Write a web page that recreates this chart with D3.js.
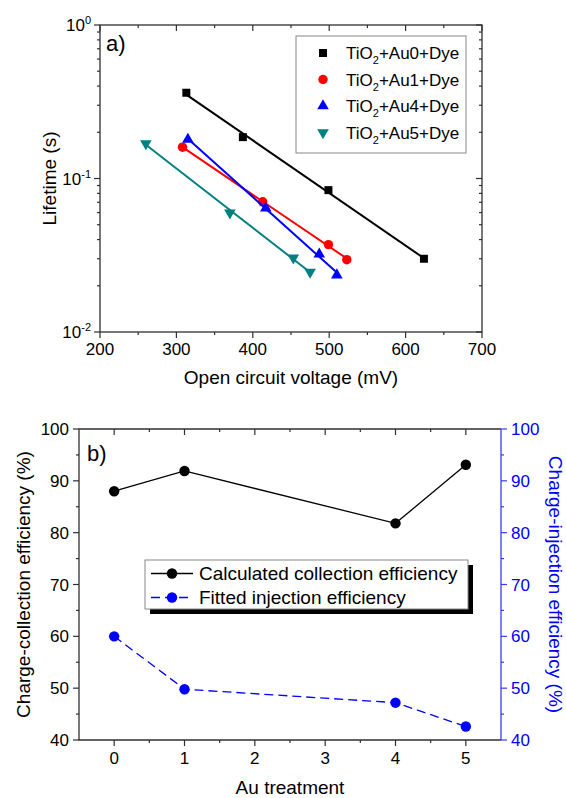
<!DOCTYPE html>
<html>
<head>
<meta charset="utf-8">
<script src="https://cdn.jsdelivr.net/npm/d3@7"></script>
<style>
  body { margin: 0; background: #fff; }
  svg text { font-family: "Liberation Sans", Arial, sans-serif; }
</style>
</head>
<body>
<svg width="566" height="798"></svg>
<script>
// panel a) data: open circuit voltage (mV) vs lifetime (s)
const seriesNames = ['Au0', 'Au1', 'Au4', 'Au5'];
const vocAu0 = [313, 387, 499, 624];
const tauAu0 = [0.362, 0.186, 0.084, 0.030];
const vocAu1 = [308, 413, 499, 523];
const tauAu1 = [0.160, 0.0705, 0.0371, 0.0296];
const vocAu4 = [315, 417, 487, 510];
const tauAu4 = [0.180, 0.064, 0.0321, 0.0235];
const vocAu5 = [260, 370, 453, 475];
const tauAu5 = [0.169, 0.0597, 0.0304, 0.0246];
const seriesColors = ['#000000', '#ff0000', '#0000ff', '#008080'];
const seriesSymbols = [d3.symbolSquare, d3.symbolCircle, d3.symbolTriangle, 'down'];

// panel b) data
const auTreatment = [0, 1, 4, 5];
const collectionEff = [88.0, 91.9, 81.8, 93.1];
const injectionEff = [60.0, 49.8, 47.2, 42.6];

const xTicksA = [200, 300, 400, 500, 600, 700];
const xTicksB = [0, 1, 2, 3, 4, 5];
const yTicksB = [40, 50, 60, 70, 80, 90, 100];

const svg = d3.select('svg');
const axisCol = '#303030';

// ---------- panel a ----------
const a = {left: 100, right: 482, top: 25, bottom: 332};
const xA = d3.scaleLinear().domain([200, 700]).range([a.left, a.right]);
const yA = d3.scaleLog().domain([0.01, 1]).range([a.bottom, a.top]);

const gA = svg.append('g');

// ticks
const minorX = d3.range(250, 700, 100);
const logMinor = [];
[0.01, 0.1].forEach(d => { for (let k = 2; k <= 9; k++) logMinor.push(d * k); });
const decades = [0.01, 0.1, 1];

function tickLines(g, vals, scale, orient, pos, len) {
  vals.forEach(v => {
    const p = scale(v);
    if (orient === 'bottom' || orient === 'top') g.append('line').attr('x1', p).attr('x2', p).attr('y1', pos).attr('y2', pos + len);
    if (orient === 'left') g.append('line').attr('y1', p).attr('y2', p).attr('x1', pos).attr('x2', pos - len);
    if (orient === 'right') g.append('line').attr('y1', p).attr('y2', p).attr('x1', pos).attr('x2', pos + len);
  });
}

const tkA = gA.append('g').attr('stroke', axisCol).attr('stroke-width', 1.2);
tickLines(tkA, xTicksA, xA, 'bottom', a.bottom, 6);
tickLines(tkA, minorX, xA, 'bottom', a.bottom, 3);
tickLines(tkA, xTicksA, xA, 'top', a.top, 6);
tickLines(tkA, minorX, xA, 'top', a.top, 3);
tickLines(tkA, decades, yA, 'left', a.left, 6);
tickLines(tkA, logMinor, yA, 'left', a.left, 3);
tickLines(tkA, decades, yA, 'right', a.right, -6);
tickLines(tkA, logMinor, yA, 'right', a.right, -3);

gA.append('rect')
  .attr('x', a.left).attr('y', a.top)
  .attr('width', a.right - a.left).attr('height', a.bottom - a.top)
  .attr('fill', 'none').attr('stroke', axisCol).attr('stroke-width', 1.3);

gA.selectAll('.xl').data(xTicksA).enter().append('text')
  .attr('x', d => xA(d)).attr('y', a.bottom + 23)
  .attr('text-anchor', 'middle').attr('font-size', 17).text(d => d);

decades.forEach(d => {
  const t = gA.append('text').attr('x', a.left - 9).attr('y', yA(d) + 6)
    .attr('text-anchor', 'end').attr('font-size', 17);
  t.append('tspan').text('10');
  t.append('tspan').attr('dy', -7).attr('font-size', 11).text(Math.round(Math.log10(d)));
});

gA.append('text').attr('x', (a.left + a.right) / 2).attr('y', 384)
  .attr('text-anchor', 'middle').attr('font-size', 19).text('Open circuit voltage (mV)');
gA.append('text').attr('transform', `translate(56, ${(a.top + a.bottom) / 2}) rotate(-90)`)
  .attr('text-anchor', 'middle').attr('font-size', 19).text('Lifetime (s)');
gA.append('text').attr('x', 106).attr('y', 51).attr('font-size', 22).text('a)');

const symGen = (type, size) => {
  if (type === 'down') return d3.symbol().type(d3.symbolTriangle).size(size)();
  return d3.symbol().type(type).size(size)();
};
const symSize = [64, 70, 58, 58];

const seriesData = [[vocAu0, tauAu0], [vocAu1, tauAu1], [vocAu4, tauAu4], [vocAu5, tauAu5]];
seriesData.forEach(([xs, ys], i) => {
  // linear fit of log10(lifetime) vs voltage
  const ly = ys.map(v => Math.log10(v));
  const mx = d3.mean(xs), my = d3.mean(ly);
  const slope = d3.sum(xs, (x, j) => (x - mx) * (ly[j] - my)) / d3.sum(xs, x => (x - mx) ** 2);
  const icp = my - slope * mx;
  const fit = [d3.min(xs), d3.max(xs)].map(x => [x, Math.pow(10, icp + slope * x)]);
  gA.append('path')
    .attr('d', d3.line().x(d => xA(d[0])).y(d => yA(d[1]))(fit))
    .attr('fill', 'none').attr('stroke', seriesColors[i]).attr('stroke-width', 2);
  xs.forEach((x, j) => {
    const rot = seriesSymbols[i] === 'down' ? ' rotate(180)' : '';
    gA.append('path')
      .attr('d', symGen(seriesSymbols[i], symSize[i]))
      .attr('transform', `translate(${xA(x)},${yA(ys[j])})${rot}`)
      .attr('fill', seriesColors[i]);
  });
});

// legend a
const legA = gA.append('g');
legA.append('rect').attr('x', 296).attr('y', 36).attr('width', 170).attr('height', 117)
  .attr('fill', '#fff').attr('stroke', '#888').attr('stroke-width', 1);
seriesNames.forEach((nm, i) => {
  const cy = 53 + i * 26.5;
  const rot = seriesSymbols[i] === 'down' ? ' rotate(180)' : '';
  legA.append('path').attr('d', symGen(seriesSymbols[i], symSize[i]))
    .attr('transform', `translate(323,${cy})${rot}`).attr('fill', seriesColors[i]);
  const t = legA.append('text').attr('x', 346).attr('y', cy + 6).attr('font-size', 17);
  t.append('tspan').text('TiO');
  t.append('tspan').attr('dy', 5).attr('font-size', 11).text('2');
  t.append('tspan').attr('dy', -5).text('+' + nm + '+Dye');
});

// ---------- panel b ----------
const b = {left: 79, right: 501, top: 429, bottom: 740};
const xB = d3.scaleLinear().domain([-0.5, 5.5]).range([b.left, b.right]);
const yB = d3.scaleLinear().domain([40, 100]).range([b.bottom, b.top]);
const blue = '#0000ff';
const blueAxis = '#3a3aff';

const gB = svg.append('g');
const tkB = gB.append('g').attr('stroke', axisCol).attr('stroke-width', 1.2);
const minorXB = d3.range(0.5, 5.5, 1);
const minorYB = d3.range(45, 100, 10);
tickLines(tkB, xTicksB, xB, 'bottom', b.bottom, 6);
tickLines(tkB, minorXB, xB, 'bottom', b.bottom, 3);
tickLines(tkB, xTicksB, xB, 'top', b.top, 6);
tickLines(tkB, minorXB, xB, 'top', b.top, 3);
tickLines(tkB, yTicksB, yB, 'left', b.left, 6);
tickLines(tkB, minorYB, yB, 'left', b.left, 3);

const tkBR = gB.append('g').attr('stroke', blueAxis).attr('stroke-width', 1.2);
tickLines(tkBR, yTicksB, yB, 'right', b.right, 6);
tickLines(tkBR, minorYB, yB, 'right', b.right, 3);

gB.append('path')
  .attr('d', `M${b.right},${b.bottom} L${b.left},${b.bottom} L${b.left},${b.top} L${b.right},${b.top}`)
  .attr('fill', 'none').attr('stroke', axisCol).attr('stroke-width', 1.3);
gB.append('line').attr('x1', b.right).attr('x2', b.right).attr('y1', b.top).attr('y2', b.bottom)
  .attr('stroke', blueAxis).attr('stroke-width', 1.3);

gB.selectAll('.xl').data(xTicksB).enter().append('text')
  .attr('x', d => xB(d)).attr('y', b.bottom + 24)
  .attr('text-anchor', 'middle').attr('font-size', 17).text(d => d);
gB.selectAll('.yl').data(yTicksB).enter().append('text')
  .attr('x', b.left - 10).attr('y', d => yB(d) + 6)
  .attr('text-anchor', 'end').attr('font-size', 17).text(d => d);
gB.selectAll('.yr').data(yTicksB).enter().append('text')
  .attr('x', b.right + 10).attr('y', d => yB(d) + 6)
  .attr('fill', blue).attr('font-size', 17).text(d => d);

gB.append('text').attr('x', (b.left + b.right) / 2).attr('y', 794)
  .attr('text-anchor', 'middle').attr('font-size', 19).text('Au treatment');
gB.append('text').attr('transform', `translate(30, ${(b.top + b.bottom) / 2}) rotate(-90)`)
  .attr('text-anchor', 'middle').attr('font-size', 19).text('Charge-collection efficiency (%)');
gB.append('text').attr('transform', `translate(549, ${(b.top + b.bottom) / 2}) rotate(90)`)
  .attr('text-anchor', 'middle').attr('font-size', 19).attr('fill', blue)
  .text('Charge-injection efficiency (%)');
gB.append('text').attr('x', 87).attr('y', 461).attr('font-size', 22).text('b)');

const lineB = d3.line().x((d, i) => xB(auTreatment[i])).y(d => yB(d));
gB.append('path').attr('d', lineB(collectionEff))
  .attr('fill', 'none').attr('stroke', '#000').attr('stroke-width', 1.3);
gB.append('path').attr('d', lineB(injectionEff))
  .attr('fill', 'none').attr('stroke', blue).attr('stroke-width', 1.3)
  .attr('stroke-dasharray', '9,5');
auTreatment.forEach((t, i) => {
  gB.append('circle').attr('cx', xB(t)).attr('cy', yB(collectionEff[i])).attr('r', 5.2).attr('fill', '#000');
  gB.append('circle').attr('cx', xB(t)).attr('cy', yB(injectionEff[i])).attr('r', 5.2).attr('fill', blue);
});

// legend b
const legB = gB.append('g');
legB.append('rect').attr('x', 150).attr('y', 565).attr('width', 323).attr('height', 49).attr('fill', '#000');
legB.append('rect').attr('x', 145).attr('y', 560).attr('width', 323).attr('height', 49)
  .attr('fill', '#fff').attr('stroke', '#888').attr('stroke-width', 1);
legB.append('line').attr('x1', 151).attr('x2', 193).attr('y1', 573.5).attr('y2', 573.5)
  .attr('stroke', '#000').attr('stroke-width', 1.3);
legB.append('circle').attr('cx', 172).attr('cy', 573.5).attr('r', 5.2).attr('fill', '#000');
legB.append('line').attr('x1', 151).attr('x2', 193).attr('y1', 597.5).attr('y2', 597.5)
  .attr('stroke', blue).attr('stroke-width', 1.3).attr('stroke-dasharray', '9,5');
legB.append('circle').attr('cx', 172).attr('cy', 597.5).attr('r', 5.2).attr('fill', blue);
legB.append('text').attr('x', 199).attr('y', 580).attr('font-size', 19).text('Calculated collection efficiency');
legB.append('text').attr('x', 199).attr('y', 604).attr('font-size', 19).text('Fitted injection efficiency');
</script>
</body>
</html>
